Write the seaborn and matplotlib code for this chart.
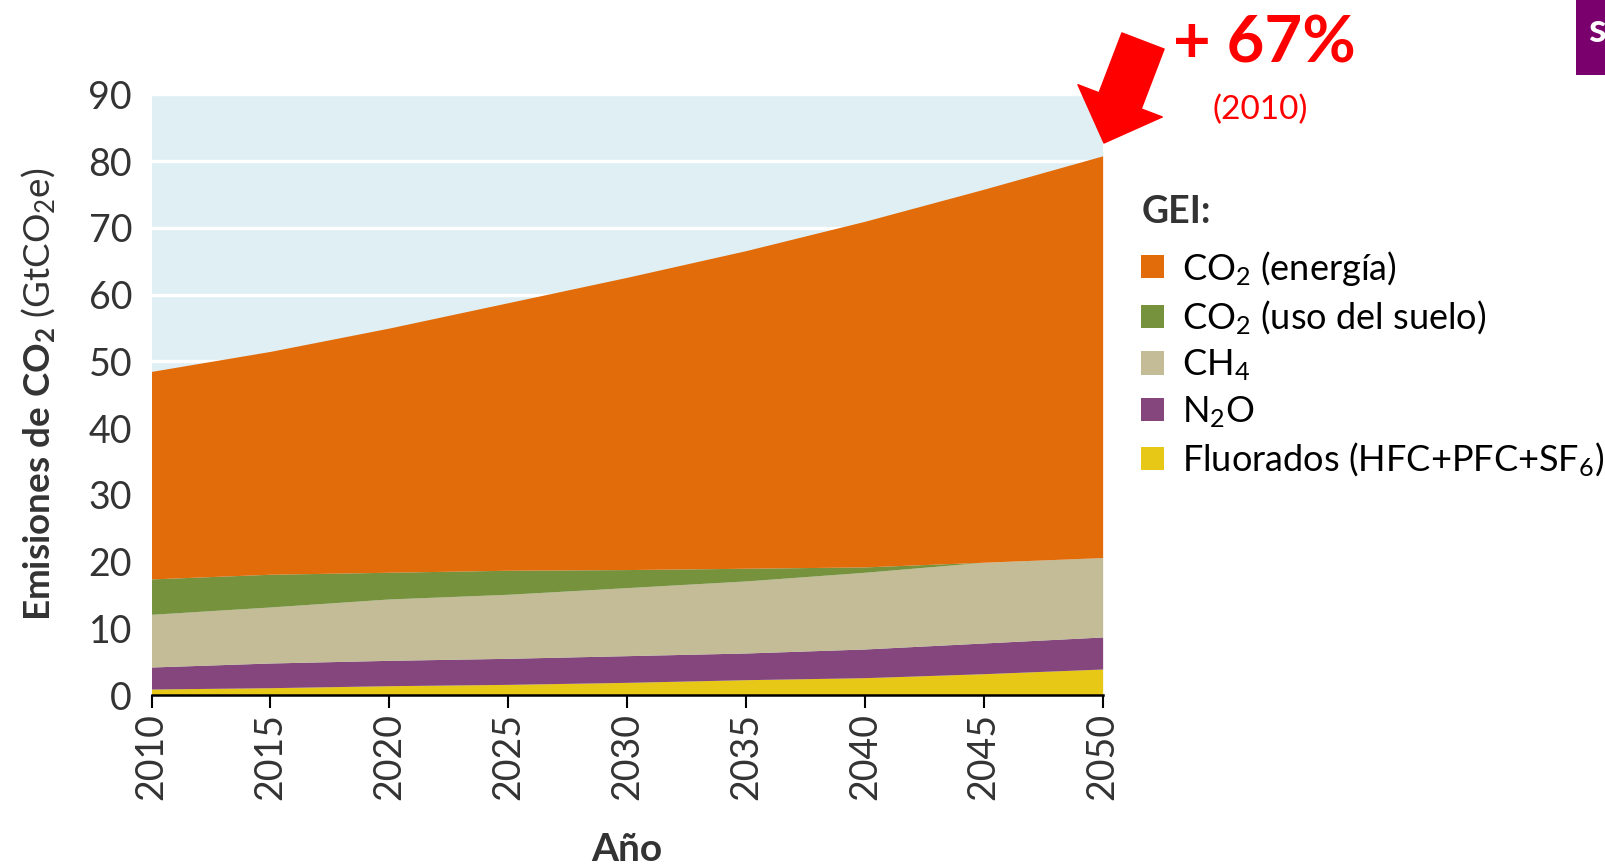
import matplotlib
matplotlib.use("Agg")
import matplotlib.pyplot as plt
import seaborn as sns
from matplotlib.patches import Patch, Rectangle

# ---- data ----
years = [2010, 2015, 2020, 2025, 2030, 2035, 2040, 2045, 2050]
fluorados = [0.9, 1.1, 1.4, 1.6, 1.9, 2.3, 2.6, 3.2, 3.9]
n2o = [3.3, 3.7, 3.8, 3.9, 4.0, 4.0, 4.3, 4.6, 4.8]
ch4 = [7.9, 8.4, 9.2, 9.6, 10.2, 10.8, 11.5, 12.1, 11.9]
co2_suelo = [5.3, 4.9, 4.0, 3.6, 2.7, 1.9, 0.8, 0.0, 0.0]
co2_energia = [31.1, 33.4, 36.6, 40.1, 43.8, 47.6, 51.8, 55.9, 60.2]

labels = ["Fluorados (HFC+PFC+SF$_6$)", "N$_2$O", "CH$_4$",
          "CO$_2$ (uso del suelo)", "CO$_2$ (energía)"]
colors = ["#E8C817", "#84467C", "#C4BC96", "#76923C", "#E36C0A"]
yticks = [0, 10, 20, 30, 40, 50, 60, 70, 80, 90]
xticks = years

sns.set_theme(style="darkgrid", rc={
    "axes.facecolor": "#DFEFF3",
    "grid.color": "white",
    "grid.linewidth": 2.4,
})
plt.rcParams["font.family"] = ["Lato", "DejaVu Sans"]
plt.rcParams["mathtext.fontset"] = "custom"
plt.rcParams["mathtext.rm"] = "Lato"
plt.rcParams["mathtext.it"] = "Lato:italic"
plt.rcParams["mathtext.bf"] = "Lato:bold"

fig = plt.figure(figsize=(16.05, 8.65), dpi=100)
ax = fig.add_axes([0.0944, 0.1965, 0.5926, 0.6943])

ax.stackplot(years, fluorados, n2o, ch4, co2_suelo, co2_energia,
             colors=colors, linewidth=0, zorder=2)
ax.set_axisbelow(True)
ax.set_xlim(2010, 2050)
ax.set_ylim(0, 90)
ax.set_yticks(yticks)
ax.set_xticks(xticks)
ax.grid(axis="x", visible=False)
ax.tick_params(axis="y", labelsize=27, colors="#333333", length=0, pad=14)
ax.tick_params(axis="x", labelsize=27, colors="black", labelcolor="#333333",
               length=9, width=1.5, direction="out", bottom=True, pad=4,
               labelrotation=90)
for s in ["left", "right", "top"]:
    ax.spines[s].set_visible(False)
ax.spines["bottom"].set_visible(True)
ax.spines["bottom"].set_color("black")
ax.spines["bottom"].set_linewidth(1.8)
ax.spines["bottom"].set_zorder(5)

ax.set_xlabel("Año", fontsize=28, fontweight="bold", color="#333333", labelpad=23)
ax.set_ylabel(r"$\mathbf{Emisiones\ de\ CO_2}$ (GtCO$_2$e)", fontsize=26.5,
              color="#333333", labelpad=22)

# legend
handles = [Patch(facecolor=c, edgecolor="none") for c in colors][::-1]
leg = fig.legend(handles, labels[::-1], loc="upper left",
                 bbox_to_anchor=(0.711, 0.7745), frameon=False,
                 fontsize=26, title="GEI:", alignment="left",
                 title_fontproperties={"weight": "bold", "size": 27},
                 handlelength=0.62, handleheight=0.62, handletextpad=0.51,
                 labelspacing=0.30, borderpad=0, borderaxespad=0)
leg._legend_box.sep = 14
leg.get_title().set_color("#333333")
for t in leg.get_texts():
    t.set_color("black")

# red arrow and annotation
ax.annotate("", xy=(1104, 722), xycoords="figure pixels",
            xytext=(1143, 824), textcoords="figure pixels",
            arrowprops=dict(arrowstyle="simple,head_length=3.25,head_width=6.5,tail_width=3.25",
                            mutation_scale=10, color="red", shrinkA=0, shrinkB=0),
            annotation_clip=False)
fig.text(0.788, 0.949, "+ 67%", color="red", fontsize=47, fontweight="bold",
         ha="center", va="center")
fig.text(0.785, 0.873, "(2010)", color="red", fontsize=24, ha="center", va="center")

# purple corner box
fig.patches.append(Rectangle((1576 / 1605, 1 - 75 / 865), 30 / 1605, 75 / 865,
                             transform=fig.transFigure, facecolor="#7A006D",
                             edgecolor="none"))
fig.text(1589 / 1605, 1 - 30 / 865, "s", color="white", fontsize=29,
         fontweight="bold", ha="left", va="center")

fig.savefig("out.png", dpi=100)
